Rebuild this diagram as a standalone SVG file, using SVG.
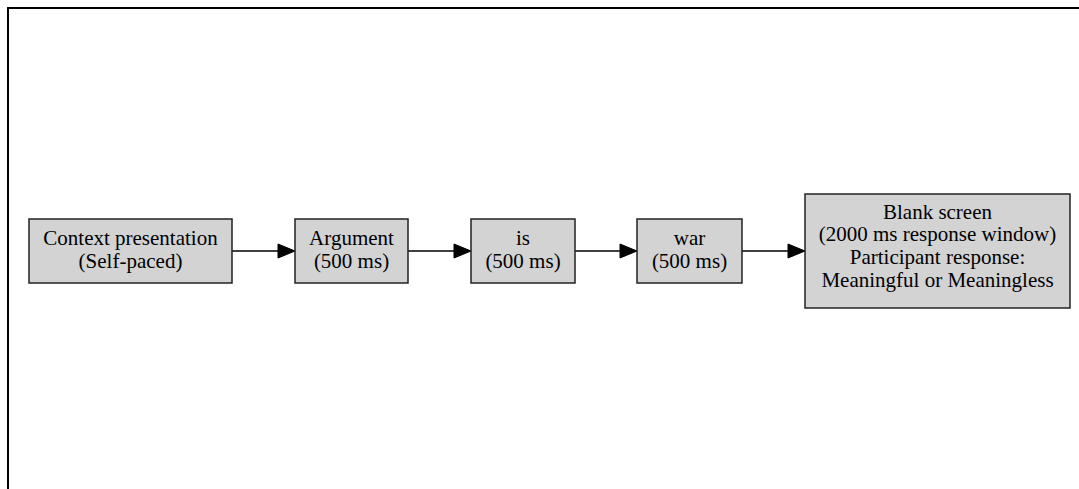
<svg xmlns="http://www.w3.org/2000/svg" width="1079" height="489" viewBox="0 0 1079 489">
<style>
.n rect{fill:#d3d3d3;stroke:#222;stroke-width:1.5}
.n text{font-family:"Liberation Serif","Times New Roman",serif;font-size:21px;fill:#000;text-anchor:middle}
.c line{stroke:#000;stroke-width:1.5}
.c polygon{fill:#000;stroke:#000;stroke-width:1}
</style>
<rect x="0" y="0" width="1079" height="489" fill="#fff"/>
<rect x="8" y="8" width="1090" height="500" fill="none" stroke="#000" stroke-width="2"/>
<g class="c" id="connectors">
<line x1="232" y1="251" x2="279" y2="251"/><polygon points="278,244 295,251 278,258"/>
<line x1="408" y1="251" x2="455" y2="251"/><polygon points="454,244 471,251 454,258"/>
<line x1="575" y1="251" x2="621" y2="251"/><polygon points="620,244 637,251 620,258"/>
<line x1="742" y1="251" x2="789" y2="251"/><polygon points="788,244 805,251 788,258"/>
</g>
<g class="n" id="context">
<rect x="29" y="219" width="203" height="64"/>
<text x="130.5" y="244.5">Context presentation</text>
<text x="130.5" y="267.5">(Self-paced)</text>
</g>
<g class="n" id="argument">
<rect x="295" y="219" width="113" height="64"/>
<text x="351.5" y="244.5">Argument</text>
<text x="351.5" y="267.5">(500 ms)</text>
</g>
<g class="n" id="is">
<rect x="471" y="219" width="104" height="64"/>
<text x="523" y="244.5">is</text>
<text x="523" y="267.5">(500 ms)</text>
</g>
<g class="n" id="war">
<rect x="637" y="219" width="105" height="64"/>
<text x="689.5" y="244.5">war</text>
<text x="689.5" y="267.5">(500 ms)</text>
</g>
<g class="n" id="blank">
<rect x="805" y="194" width="265" height="114"/>
<text x="937.5" y="218.5">Blank screen</text>
<text x="937.5" y="241.3">(2000 ms response window)</text>
<text x="937.5" y="264.1">Participant response:</text>
<text x="937.5" y="286.9">Meaningful or Meaningless</text>
</g>
</svg>
